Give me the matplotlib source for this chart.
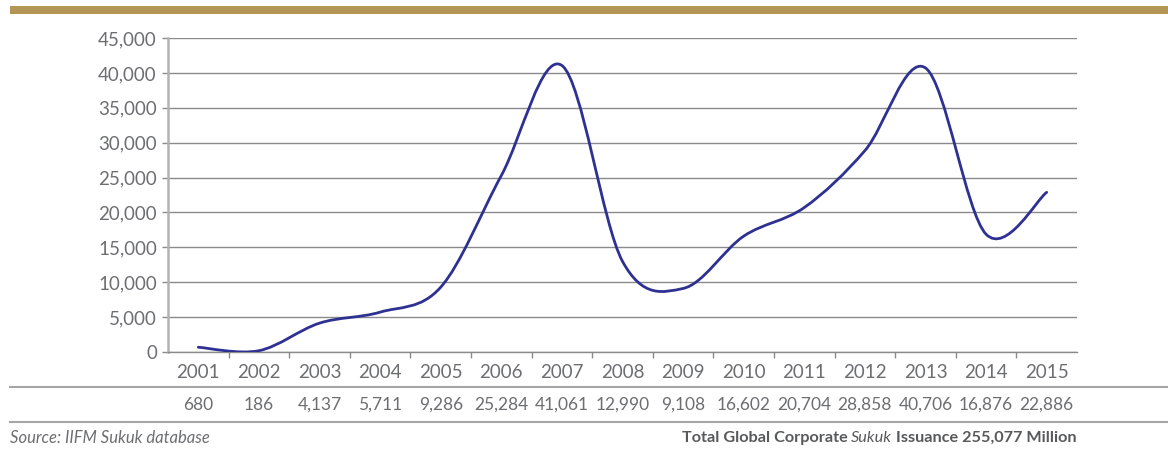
import matplotlib
matplotlib.use("Agg")
import matplotlib.pyplot as plt
import numpy as np
from matplotlib.path import Path
from matplotlib.patches import PathPatch
from matplotlib.lines import Line2D

plt.rcParams['font.family'] = ['Lato', 'DejaVu Sans']

years = ['2001', '2002', '2003', '2004', '2005', '2006', '2007', '2008',
         '2009', '2010', '2011', '2012', '2013', '2014', '2015']
issuance = [680, 186, 4137, 5711, 9286, 25284, 41061, 12990,
            9108, 16602, 20704, 28858, 40706, 16876, 22886]
yticks = list(range(0, 45001, 5000))

txt = '#6d6e71'
W, H = 1168, 453
fig = plt.figure(figsize=(W / 100, H / 100), dpi=100)
ax = fig.add_axes([168 / W, 1 - 352 / H, 909 / W, 314 / H])

# smoothed line (excel style bezier through the data points)
x = np.arange(len(issuance), dtype=float)
y = np.array(issuance, dtype=float)
verts = [(x[0], y[0])]
codes = [Path.MOVETO]
n = len(x)
for i in range(n - 1):
    p0 = i - 1 if i > 0 else i
    p3 = i + 2 if i + 2 < n else i + 1
    c1 = (x[i] + (x[i + 1] - x[p0]) / 6, y[i] + (y[i + 1] - y[p0]) / 6)
    c2 = (x[i + 1] - (x[p3] - x[i]) / 6, y[i + 1] - (y[p3] - y[i]) / 6)
    verts += [c1, c2, (x[i + 1], y[i + 1])]
    codes += [Path.CURVE4] * 3
ax.add_patch(PathPatch(Path(verts, codes), fill=False, edgecolor='#2e3192',
                       lw=2.0, capstyle='round', joinstyle='round', zorder=3))

ax.set_xlim(-0.5, n - 0.5)
ax.set_ylim(0, 45000)
ax.set_yticks(yticks)
ax.set_yticklabels([f'{v:,}' for v in yticks])
ax.set_xticks(x)
ax.set_xticklabels(years)
ax.set_xticks(np.arange(0.5, n - 0.5), minor=True)
ax.tick_params(axis='x', which='major', length=0, pad=9, labelsize=13.5, labelcolor=txt)
ax.tick_params(axis='x', which='minor', length=4, color='#8a8a8a', width=1)
ax.tick_params(axis='y', length=4, color='#8a8a8a', width=1, pad=4, labelsize=13.5, labelcolor=txt)
ax.grid(axis='y', color='#8a8a8a', lw=1)
ax.set_axisbelow(True)
for s in ['top', 'right']:
    ax.spines[s].set_visible(False)
ax.spines['left'].set_color('#b3b3b3')
ax.spines['left'].set_linewidth(1.8)
ax.spines['bottom'].set_color('#8a8a8a')
ax.spines['bottom'].set_linewidth(1)

# gold band at the top
fig.add_artist(plt.Rectangle((10 / W, 1 - 14 / H), 1 - 10 / W, 8 / H,
                             transform=fig.transFigure, color='#b39656', lw=0))

# table rules
for yy in (387, 422):
    fig.add_artist(Line2D([10 / W, 1167 / W], [1 - yy / H] * 2,
                          transform=fig.transFigure, color='#a6a6a6', lw=1.5))

# value row
trans = matplotlib.transforms.blended_transform_factory(ax.transData, fig.transFigure)
for xi, v in zip(x, issuance):
    ax.text(xi, 1 - 405 / H, f'{v:,}', transform=trans, ha='center', va='center',
            fontsize=12.5, color=txt)

fig.text(10 / W, 1 - 438 / H, 'Source: IIFM Sukuk database', style='italic',
         fontsize=12, color=txt, va='center')

t3 = fig.text(1077 / W, 1 - 438 / H, ' Issuance 255,077 Million', fontweight='bold',
              fontsize=11.7, color='#58595b', ha='right', va='center')
t2 = fig.text(0, 0, 'Sukuk', style='italic', fontsize=11.7, color='#58595b')
t1 = fig.text(0, 0, 'Total Global Corporate ', fontweight='bold',
              fontsize=11.7, color='#58595b')
fig.canvas.draw()
r = fig.canvas.get_renderer()
bb3 = t3.get_window_extent(r)
base_y = t3.get_position()[1]
t2.set_position((bb3.x0 / W, base_y))
t2.set_ha('right')
t2.set_va('center')
fig.canvas.draw()
bb2 = t2.get_window_extent(r)
t1.set_position((bb2.x0 / W, base_y))
t1.set_ha('right')
t1.set_va('center')

fig.savefig('out.png', dpi=100)
